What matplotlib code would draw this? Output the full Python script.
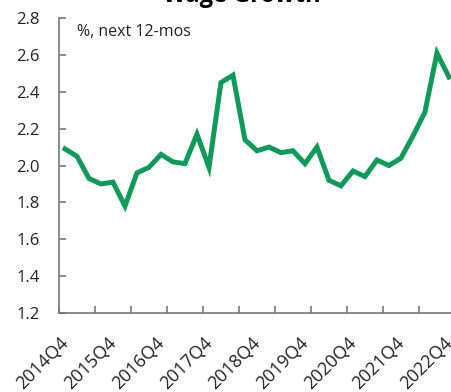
import matplotlib.pyplot as plt
import matplotlib.transforms as mtransforms
import numpy as np

# Wage growth expectations, quarterly 2014Q4 - 2022Q4
quarters = [f"{y}Q{q}" for y in range(2014, 2023) for q in range(1, 5)][3:]
wage_growth = [2.09, 2.05, 1.93, 1.90, 1.91, 1.78, 1.96, 1.99, 2.06, 2.02,
               2.01, 2.17, 1.99, 2.45, 2.49, 2.14, 2.08, 2.10, 2.07, 2.08,
               2.01, 2.10, 1.92, 1.89, 1.97, 1.94, 2.03, 2.00, 2.04, 2.16,
               2.29, 2.61, 2.48]
year_labels = ["2014Q4", "2015Q4", "2016Q4", "2017Q4", "2018Q4",
               "2019Q4", "2020Q4", "2021Q4", "2022Q4"]

plt.rcParams['font.family'] = ['Open Sans', 'DejaVu Sans']

fig = plt.figure(figsize=(4.52, 3.92), dpi=100)
ax = fig.add_axes([0.1305, 0.2015, 0.876, 0.7525])

x = np.arange(len(quarters))
ax.plot(x, wage_growth, color='#109a5a', linewidth=3.6, solid_joinstyle='miter')

ax.set_xlim(-0.5, len(quarters) - 0.5)
ax.set_ylim(1.2, 2.8)
ax.set_yticks(np.arange(1.2, 2.81, 0.2))
ax.set_yticklabels([f"{v:.1f}" for v in np.arange(1.2, 2.81, 0.2)])

# ticks at band edges every 3 quarters, labels every year
ax.set_xticks(np.arange(-0.5, len(quarters), 3))
ax.set_xticklabels([])
ax.set_xticks([quarters.index(q) for q in year_labels], minor=True)
ax.set_xticklabels(year_labels, minor=True, rotation=45, ha='right',
                   rotation_mode='anchor', fontsize=13, color='#222222')
ax.tick_params(axis='x', which='minor', length=0, pad=15)
ax.tick_params(axis='x', which='major', direction='in', length=5,
               color='#777777', width=1.2)
ax.tick_params(axis='y', direction='in', length=5, color='#777777', width=1.2,
               labelsize=12, pad=14, labelcolor='#222222')
shift = mtransforms.ScaledTranslation(-6 / 100, 0, fig.dpi_scale_trans)
for lbl in ax.get_xticklabels(minor=True):
    lbl.set_transform(lbl.get_transform() + shift)

for s in ['top', 'right']:
    ax.spines[s].set_visible(False)
for s in ['left', 'bottom']:
    ax.spines[s].set_color('#777777')
    ax.spines[s].set_linewidth(1.2)

ax.text(0.045, 0.98, '%, next 12-mos', transform=ax.transAxes, fontsize=11.5,
        va='top', ha='left', color='#222222')
fig.text(0.535, 0.995, 'Wage Growth', ha='center', va='baseline',
         fontsize=17, fontweight='bold')

fig.savefig('out.png', dpi=100)
